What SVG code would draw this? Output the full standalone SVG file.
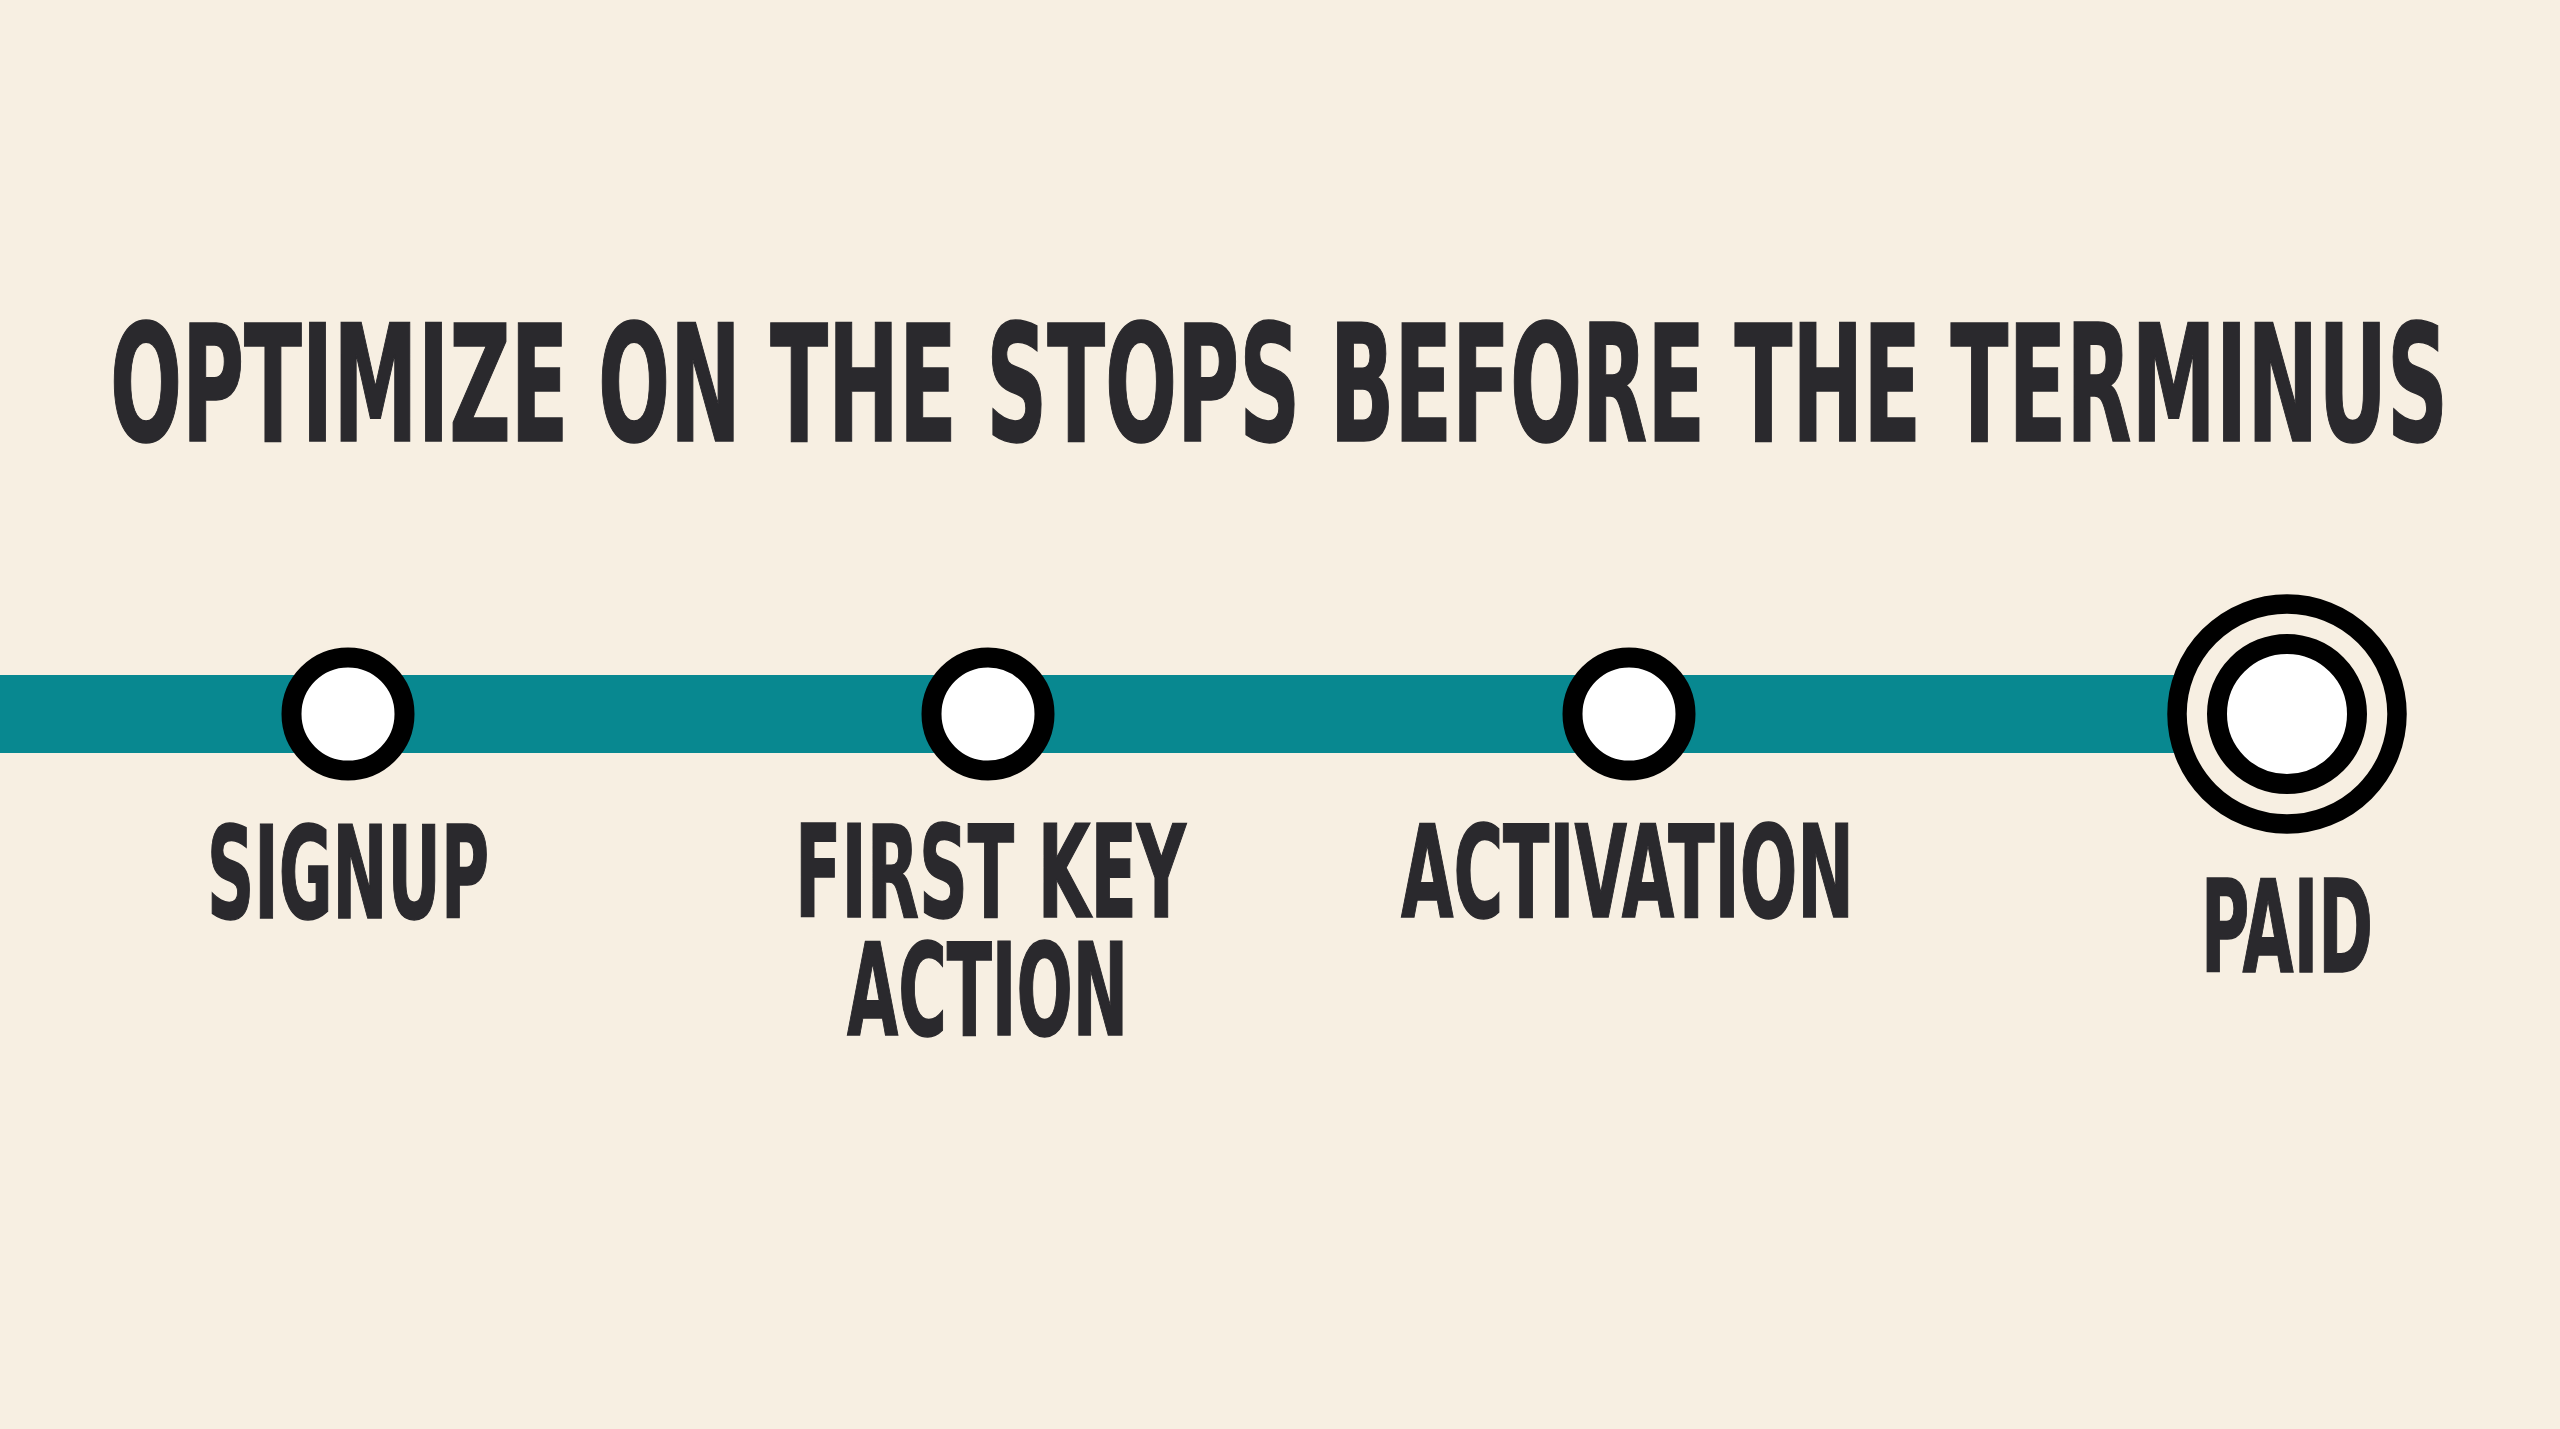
<svg xmlns="http://www.w3.org/2000/svg" width="2560" height="1429" viewBox="0 0 2560 1429">
  <style>
    .txt { font-family: "Liberation Sans Narrow", "DejaVu Sans Condensed", "Liberation Sans", sans-serif; font-weight: bold; fill: #2a292d; stroke: #2a292d; stroke-width: 1.5; }
    .title { font-size: 163px; }
    .label { font-size: 129px; }
    .ring { fill: #ffffff; stroke: #000000; stroke-width: 20; }
  </style>
  <rect x="0" y="0" width="2560" height="1429" fill="#f7efe2"/>
  <g id="title">
    <text class="txt title" x="110" y="441" textLength="2338" lengthAdjust="spacingAndGlyphs">OPTIMIZE ON THE STOPS BEFORE THE TERMINUS</text>
  </g>
  <g id="connectors">
    <rect x="0" y="675" width="2200" height="78" fill="#088890"/>
  </g>
  <g id="signup">
    <circle class="ring" cx="348" cy="714" r="56.5"/>
    <text class="txt label" x="207" y="918" textLength="282" lengthAdjust="spacingAndGlyphs">SIGNUP</text>
  </g>
  <g id="first-key-action">
    <circle class="ring" cx="988" cy="714" r="56.5"/>
    <text class="txt label"><tspan x="795" y="917" textLength="391" lengthAdjust="spacingAndGlyphs">FIRST KEY</tspan><tspan x="847" y="1035" textLength="281" lengthAdjust="spacingAndGlyphs">ACTION</tspan></text>
  </g>
  <g id="activation">
    <circle class="ring" cx="1629" cy="714" r="56.5"/>
    <text class="txt label" x="1401" y="917" textLength="453" lengthAdjust="spacingAndGlyphs">ACTIVATION</text>
  </g>
  <g id="paid">
    <circle cx="2287" cy="714" r="110" fill="#f7efe2" stroke="#000000" stroke-width="19.5"/>
    <circle class="ring" cx="2287" cy="714" r="70"/>
    <text class="txt label" x="2201" y="972" textLength="172" lengthAdjust="spacingAndGlyphs">PAID</text>
  </g>
</svg>
